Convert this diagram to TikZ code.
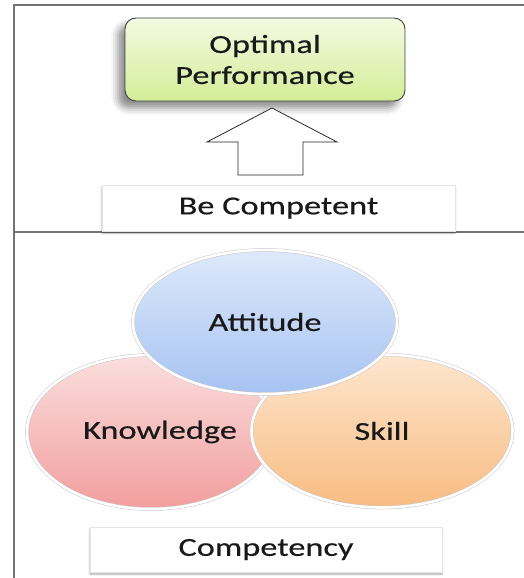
\documentclass[tikz,border=0pt]{standalone}
\usepackage{fontspec}
\setmainfont{Carlito}[FakeStretch=1.32, FakeBold=0.3]
\usetikzlibrary{shapes.geometric,shadows.blur}

\definecolor{perftop}{HTML}{F4FAE2}
\definecolor{perfbot}{HTML}{D2ED98}
\definecolor{atttop}{HTML}{DEE9FA}
\definecolor{attbot}{HTML}{A6C3F2}
\definecolor{knowtop}{HTML}{FBDEDE}
\definecolor{knowbot}{HTML}{F29E9E}
\definecolor{skilltop}{HTML}{FDE6CE}
\definecolor{skillbot}{HTML}{F8BC82}

\begin{document}
\begin{tikzpicture}[x=1pt,y=-1pt,
  lbl/.style={font=\fontsize{26}{31}\selectfont, text=black!90, align=center},
  flatbox/.style={lbl, draw=black!10, line width=0.6pt, fill=white, inner sep=0pt,
    blur shadow={shadow xshift=0pt, shadow yshift=-2pt, shadow blur radius=2pt, shadow opacity=35}},
  bubble/.style={lbl, ellipse, inner sep=0pt, draw=black!22, line width=0.5pt,
    double=white, double distance=2.6pt},
  frameline/.style={draw=black!55, line width=1.6pt}]
\useasboundingbox (0,0) rectangle (524,578);

% frame
\draw[frameline] (524,5) -- (14,5) -- (14,578);
\draw[frameline] (14,232) -- (524,232);

% top part
\node[lbl, draw=black!75, line width=0.9pt, rounded corners=11pt,
  top color=perftop, bottom color=perfbot,
  minimum width=280, minimum height=83, inner sep=0pt,
  blur shadow={shadow xshift=-7pt, shadow yshift=-7pt, shadow blur radius=7pt, shadow opacity=45}]
  (perf) at (265,59.5) {Optimal\\Performance};
\draw[black!85, line width=0.8pt, fill=white]
  (272,108) -- (337,142) -- (303,142) -- (303,175) -- (238,175) -- (238,142) -- (207,142) -- cycle;
\node[flatbox, minimum width=353, minimum height=46] (becomp) at (278.5,208) {Be Competent};

% bottom part
\node[bubble, minimum width=248, minimum height=154,
  top color=knowtop, bottom color=knowbot] (know) at (151,432) {\hspace*{18pt}Knowledge};
\node[bubble, minimum width=261, minimum height=153,
  top color=skilltop, bottom color=skillbot] (skill) at (382,431) {Skill};
\node[bubble, minimum width=264, minimum height=144,
  top color=atttop, bottom color=attbot] (att) at (265,322) {Attitude};
\node[flatbox, minimum width=352, minimum height=45] (comp) at (266,549.5) {Competency};

\end{tikzpicture}
\end{document}
